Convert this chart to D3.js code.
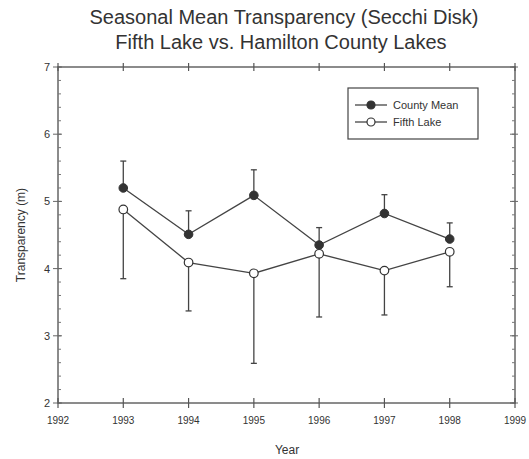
<!DOCTYPE html>
<html>
<head>
<meta charset="utf-8">
<script src="https://cdn.jsdelivr.net/npm/d3@7"></script>
<style>
  body { margin: 0; background: #fff; }
  svg { font-family: "Liberation Sans", Arial, sans-serif; }
</style>
</head>
<body>
<div class="chart"></div>
<script>
// Data
var years = [1993, 1994, 1995, 1996, 1997, 1998];
var countyMean = [5.2, 4.51, 5.09, 4.35, 4.82, 4.44];
var countyUpper = [5.6, 4.86, 5.47, 4.61, 5.1, 4.68];
var fifthLake = [4.88, 4.09, 3.93, 4.22, 3.97, 4.25];
var fifthLower = [3.85, 3.37, 2.59, 3.28, 3.31, 3.73];
var xTicks = [1992, 1993, 1994, 1995, 1996, 1997, 1998, 1999];
var yTicks = [2, 3, 4, 5, 6, 7];

var width = 529, height = 459;
var pL = 58, pR = 515, pT = 67, pB = 403;
var ink = "#444";

var svg = d3.select(".chart").append("svg")
    .attr("width", width)
    .attr("height", height);

var x = d3.scaleLinear().domain([1992, 1999]).range([pL, pR]);
var y = d3.scaleLinear().domain([2, 7]).range([pB, pT]);

// Title
svg.append("text")
    .attr("x", 284).attr("y", 24)
    .attr("text-anchor", "middle")
    .style("font-size", "20px").attr("fill", "#333")
    .text("Seasonal Mean Transparency (Secchi Disk)");
svg.append("text")
    .attr("x", 281).attr("y", 49)
    .attr("text-anchor", "middle")
    .style("font-size", "20px").attr("fill", "#333")
    .text("Fifth Lake vs. Hamilton County Lakes");

// frame
svg.append("rect")
    .attr("x", pL).attr("y", pT)
    .attr("width", pR - pL).attr("height", pB - pT)
    .attr("fill", "none").attr("stroke", "#666").attr("stroke-width", 1.5);

// minor y ticks
var minorY = d3.range(2, 7.01, 0.2);
svg.selectAll("line.minorL").data(minorY).enter().append("line")
    .attr("x1", pL).attr("x2", pL + 3)
    .attr("y1", d => y(d)).attr("y2", d => y(d))
    .attr("stroke", "#777");
svg.selectAll("line.minorR").data(minorY).enter().append("line")
    .attr("x1", pR - 3).attr("x2", pR)
    .attr("y1", d => y(d)).attr("y2", d => y(d))
    .attr("stroke", "#777");

// major y ticks
svg.selectAll("line.majL").data(yTicks).enter().append("line")
    .attr("x1", pL - 5).attr("x2", pL + 4)
    .attr("y1", d => y(d)).attr("y2", d => y(d))
    .attr("stroke", "#666");
svg.selectAll("line.majR").data(yTicks).enter().append("line")
    .attr("x1", pR - 5).attr("x2", pR + 3)
    .attr("y1", d => y(d)).attr("y2", d => y(d))
    .attr("stroke", "#666");
svg.selectAll("text.yl").data(yTicks).enter().append("text")
    .attr("x", pL - 8).attr("y", d => y(d) + 4)
    .attr("text-anchor", "end")
    .style("font-size", "11px").attr("fill", "#333")
    .text(d => d);

// x ticks
svg.selectAll("line.xb").data(xTicks).enter().append("line")
    .attr("x1", d => x(d)).attr("x2", d => x(d))
    .attr("y1", pB - 5).attr("y2", pB + 5)
    .attr("stroke", "#555").attr("stroke-width", 1.2);
svg.selectAll("line.xt").data(xTicks).enter().append("line")
    .attr("x1", d => x(d)).attr("x2", d => x(d))
    .attr("y1", pT - 4).attr("y2", pT + 4)
    .attr("stroke", "#555").attr("stroke-width", 1.2);
svg.selectAll("text.xl").data(xTicks).enter().append("text")
    .attr("x", d => x(d)).attr("y", pB + 21)
    .attr("text-anchor", "middle")
    .style("font-size", "10px").attr("fill", "#333")
    .text(d => d);

// axis titles
svg.append("text")
    .attr("x", 287).attr("y", 454)
    .attr("text-anchor", "middle")
    .style("font-size", "12px").attr("fill", "#333")
    .text("Year");
svg.append("text")
    .attr("transform", "translate(25,235) rotate(-90)")
    .attr("text-anchor", "middle")
    .style("font-size", "12px").attr("fill", "#333")
    .text("Transparency (m)");

// error bars
function errBars(vals, ends, cls) {
  var g = svg.append("g").attr("class", cls);
  g.selectAll("line.v").data(years).enter().append("line")
      .attr("x1", d => x(d)).attr("x2", d => x(d))
      .attr("y1", (d, i) => y(vals[i])).attr("y2", (d, i) => y(ends[i]))
      .attr("stroke", ink).attr("stroke-width", 1.3);
  g.selectAll("line.c").data(years).enter().append("line")
      .attr("x1", d => x(d) - 3).attr("x2", d => x(d) + 3)
      .attr("y1", (d, i) => y(ends[i])).attr("y2", (d, i) => y(ends[i]))
      .attr("stroke", ink).attr("stroke-width", 1.3);
}
errBars(countyMean, countyUpper, "errC");
errBars(fifthLake, fifthLower, "errF");

var line = d3.line().x(d => x(d[0])).y(d => y(d[1]));
svg.append("path")
    .attr("d", line(years.map((d, i) => [d, countyMean[i]])))
    .attr("fill", "none").attr("stroke", ink).attr("stroke-width", 1.3);
svg.append("path")
    .attr("d", line(years.map((d, i) => [d, fifthLake[i]])))
    .attr("fill", "none").attr("stroke", ink).attr("stroke-width", 1.3);

svg.selectAll("circle.cm").data(years).enter().append("circle")
    .attr("cx", d => x(d)).attr("cy", (d, i) => y(countyMean[i]))
    .attr("r", 4.3).attr("fill", "#333").attr("stroke", "#333");
svg.selectAll("circle.fl").data(years).enter().append("circle")
    .attr("cx", d => x(d)).attr("cy", (d, i) => y(fifthLake[i]))
    .attr("r", 4.3).attr("fill", "#fff").attr("stroke", "#333").attr("stroke-width", 1.2);

// legend
var lg = svg.append("g");
lg.append("rect")
    .attr("x", 348).attr("y", 88).attr("width", 130).attr("height", 51)
    .attr("fill", "#fff").attr("stroke", "#444").attr("stroke-width", 1.2);
var legendItems = [["County Mean", "#333"], ["Fifth Lake", "#fff"]];
legendItems.forEach(function(it, i) {
  var yy = 105 + i * 17;
  lg.append("line").attr("x1", 355).attr("x2", 387).attr("y1", yy).attr("y2", yy)
      .attr("stroke", ink).attr("stroke-width", 1.3);
  lg.append("circle").attr("cx", 371).attr("cy", yy).attr("r", 4)
      .attr("fill", it[1]).attr("stroke", "#333").attr("stroke-width", 1.2);
  lg.append("text").attr("x", 393).attr("y", yy + 4)
      .style("font-size", "11px").attr("fill", "#333")
      .text(it[0]);
});
</script>
</body>
</html>
